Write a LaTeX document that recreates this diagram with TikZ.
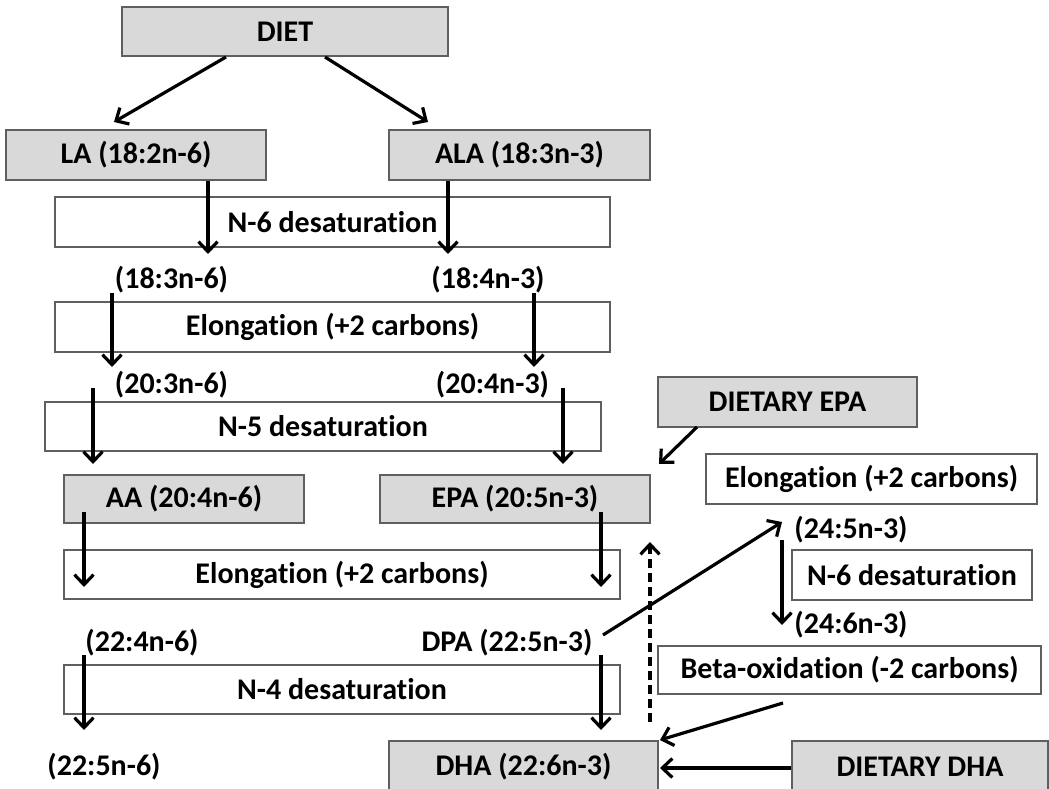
\documentclass[tikz,border=0pt]{standalone}
\usepackage{fontspec}
\setmainfont{Carlito}[Ligatures=NoCommon]
\usetikzlibrary{arrows.meta}
\definecolor{boxgray}{RGB}{217,217,217}
\definecolor{edgegray}{RGB}{95,95,95}
\begin{document}
\begin{tikzpicture}[x=1pt,y=-1pt,
  lbl/.style={font=\fontsize{30}{36}\selectfont\bfseries, inner sep=0pt},
  graybox/.style={lbl, draw=edgegray, line width=1.3pt, fill=boxgray, minimum width=#1, minimum height=49},
  whitebox/.style={lbl, draw=edgegray, line width=1.3pt, fill=white, minimum width=#1, minimum height=49},
  arr/.style={line width=3.2pt, -{Straight Barb[length=10pt,width=19pt]}},
  dasharr/.style={arr, dash pattern=on 9pt off 5pt},
]
\useasboundingbox (0,0) rectangle (1049,789);
\clip (0,0) rectangle (1049,789);

% boxes
\node[graybox=326] (diet) at (285,31.5) {DIET};
\node[graybox=260, minimum height=50] (la) at (136,155) {LA (18:2n-6)};
\node[graybox=261, minimum height=50] (ala) at (519.5,155) {ALA (18:3n-3)};
\node[whitebox=555, minimum height=50] (des6) at (332.5,222) {N-6 desaturation};
\node[whitebox=555, minimum height=50] (elo1) at (332.5,327) {Elongation (+2 carbons)};
\node[whitebox=556] (des5) at (323,426.5) {N-5 desaturation};
\node[graybox=240, minimum height=48] (aa) at (184,499) {AA (20:4n-6)};
\node[graybox=270, minimum height=48] (epa) at (515,499) {EPA (20:5n-3)};
\node[whitebox=556] (elo2) at (342,574.5) {Elongation (+2 carbons)};
\node[whitebox=556] (des4) at (342,689.5) {N-4 desaturation};
\node[graybox=269, minimum height=52] (dha) at (523.5,767) {DHA (22:6n-3)};
\node[graybox=259, minimum height=50] (depa) at (787.5,402) {DIETARY EPA};
\node[whitebox=331, minimum height=50] (elo3) at (871.5,479) {Elongation (+2 carbons)};
\node[whitebox=240, minimum height=50] (des6b) at (912,575) {N-6 desaturation};
\node[whitebox=383, minimum height=48] (beta) at (849.5,670) {Beta-oxidation (-2 carbons)};
\node[graybox=256, minimum height=52] (ddha) at (920,767) {DIETARY DHA};

% plain labels
\node[lbl] (t183) at (171.5,280) {(18:3n-6)};
\node[lbl] (t184) at (488,280) {(18:4n-3)};
\node[lbl] (t203) at (171.5,385) {(20:3n-6)};
\node[lbl] (t204) at (492.5,385) {(20:4n-3)};
\node[lbl] (t224) at (142,643) {(22:4n-6)};
\node[lbl] (dpa) at (507,643) {DPA (22:5n-3)};
\node[lbl] (t225) at (104,767) {(22:5n-6)};
\node[lbl] (t245) at (851,530) {(24:5n-3)};
\node[lbl] (t246) at (851,625) {(24:6n-3)};

% arrow end points
\coordinate (a1s) at (226,57);  \coordinate (a1e) at (114,122);
\coordinate (a2s) at (325,57);  \coordinate (a2e) at (428,122);
\coordinate (a3e) at (208,254);
\coordinate (a4e) at (448,254);
\coordinate (a5s) at (112,293); \coordinate (a5e) at (112,367);
\coordinate (a6s) at (534,293); \coordinate (a6e) at (534,367);
\coordinate (a7s) at (93,388);  \coordinate (a7e) at (93,464);
\coordinate (a8s) at (563,388); \coordinate (a8e) at (563,464);
\coordinate (a9s) at (697,427); \coordinate (a9e) at (659,464);
\coordinate (a10s) at (84,512); \coordinate (a10e) at (84,587);
\coordinate (a11s) at (601,512); \coordinate (a11e) at (601,587);
\coordinate (a12s) at (84,655); \coordinate (a12e) at (84,730);
\coordinate (a13s) at (601,655); \coordinate (a13e) at (601,730);
\coordinate (a14s) at (650,722); \coordinate (a14e) at (650,542);
\coordinate (a15s) at (603,635); \coordinate (a15e) at (782,522);
\coordinate (a16s) at (782,540); \coordinate (a16e) at (782,625);
\coordinate (a17s) at (783,703); \coordinate (a17e) at (660,740);
\coordinate (a18e) at (660,768);

% arrows
\draw[arr] (a1s) -- (a1e);
\draw[arr] (a2s) -- (a2e);
\draw[arr] (la.south -| a3e) -- (a3e);
\draw[arr] (ala.south -| a4e) -- (a4e);
\draw[arr] (a5s) -- (a5e);
\draw[arr] (a6s) -- (a6e);
\draw[arr] (a7s) -- (a7e);
\draw[arr] (a8s) -- (a8e);
\draw[arr] (a9s) -- (a9e);
\draw[arr] (a10s) -- (a10e);
\draw[arr] (a11s) -- (a11e);
\draw[arr] (a12s) -- (a12e);
\draw[arr] (a13s) -- (a13e);
\draw[dasharr] (a14s) -- (a14e);
\draw[arr] (a15s) -- (a15e);
\draw[arr] (a16s) -- (a16e);
\draw[arr] (a17s) -- (a17e);
\draw[arr] (ddha.west |- a18e) -- (a18e);
\end{tikzpicture}
\end{document}
